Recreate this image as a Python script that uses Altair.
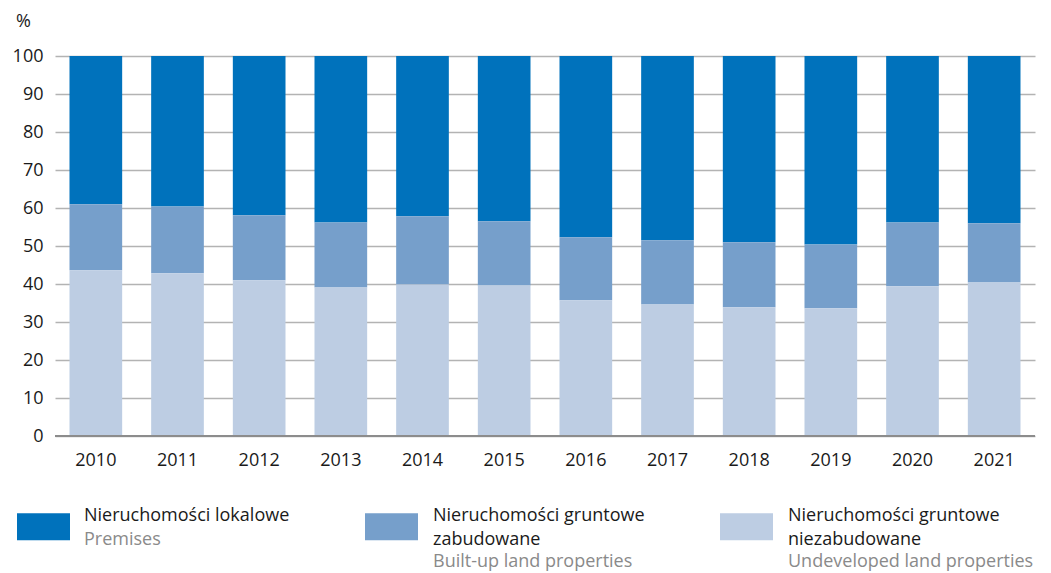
import altair as alt
import pandas as pd

years = ["2010", "2011", "2012", "2013", "2014", "2015", "2016", "2017", "2018", "2019", "2020", "2021"]
# cumulative boundaries
undeveloped = [43.6, 42.8, 41.0, 39.1, 39.9, 39.6, 35.7, 34.6, 33.9, 33.6, 39.4, 40.4]
builtup_top = [61.0, 60.4, 58.1, 56.2, 57.8, 56.5, 52.3, 51.5, 51.0, 50.4, 56.2, 56.0]
builtup = [round(b - u, 1) for b, u in zip(builtup_top, undeveloped)]
premises = [round(100 - b, 1) for b in builtup_top]

series_pl = ["Nieruchomości lokalowe", "Nieruchomości gruntowe zabudowane", "Nieruchomości gruntowe niezabudowane"]
series_en = ["Premises", "Built-up land properties", "Undeveloped land properties"]
colors = ["#0072BC", "#769FCB", "#BDCDE3"]
stack_order = [2, 1, 0]  # undeveloped at bottom

rows = []
for i, y in enumerate(years):
    for k, vals in enumerate([premises, builtup, undeveloped]):
        rows.append({"year": y, "series": series_pl[k], "value": vals[i], "ord": stack_order[k]})
df = pd.DataFrame(rows)

FONT = "Open Sans"
W, H = 980, 380
yaxis = alt.Axis(values=list(range(0, 101, 10)), labelFontSize=18, labelFont=FONT,
                 labelColor="#1a1a1a", domain=False, ticks=False, labelPadding=12,
                 labelOverlap=False, labelBound=False,
                 grid=True, gridColor="#b3b3b3", gridWidth=1.5)

bars = alt.Chart(df).mark_bar().encode(
    x=alt.X("year:N", sort=years, title=None,
            scale=alt.Scale(paddingInner=0.355, paddingOuter=0.1775),
            axis=alt.Axis(labelAngle=0, labelFontSize=18, labelFont=FONT, labelColor="#1a1a1a",
                          domain=False, ticks=False, labelPadding=15)),
    y=alt.Y("value:Q", stack="zero", title=None,
            scale=alt.Scale(domain=[0, 100], nice=False), axis=yaxis),
    color=alt.Color("series:N", scale=alt.Scale(domain=series_pl, range=colors), legend=None),
    order=alt.Order("ord:Q"),
)

zero_line = alt.Chart(pd.DataFrame({"v": [0]})).mark_rule(color="#8c8c8c", strokeWidth=2).encode(
    y=alt.Y("v:Q", title=None, scale=alt.Scale(domain=[0, 100], nice=False), axis=yaxis))

pct = alt.Chart(pd.DataFrame({"t": ["%"]})).mark_text(
    font=FONT, fontSize=18, color="#1a1a1a", align="left", baseline="middle"
).encode(text="t:N", x=alt.value(-39), y=alt.value(-34))

# custom legend
leg_sq_x = [-38, 310, 665]
leg_tx_x = [29, 378, 733]
pl_lines = [["Nieruchomości lokalowe"], ["Nieruchomości gruntowe", "zabudowane"], ["Nieruchomości gruntowe", "niezabudowane"]]
layers = [bars, zero_line, pct]
for k in range(3):
    sq = alt.Chart(pd.DataFrame({"s": [series_pl[k]]})).mark_rect(color=colors[k]).encode(
        x=alt.value(leg_sq_x[k]), x2=alt.value(leg_sq_x[k] + 53),
        y=alt.value(457.3), y2=alt.value(484.3))
    layers.append(sq)
    lines = pl_lines[k]
    for j, line in enumerate(lines):
        layers.append(alt.Chart(pd.DataFrame({"t": [line]})).mark_text(
            font=FONT, fontSize=18, color="#1a1a1a", align="left", baseline="middle"
        ).encode(text="t:N", x=alt.value(leg_tx_x[k]), y=alt.value(460 + 24 * j)))
    layers.append(alt.Chart(pd.DataFrame({"t": [series_en[k]]})).mark_text(
        font=FONT, fontSize=18, color="#8a8a8a", align="left", baseline="middle"
    ).encode(text="t:N", x=alt.value(leg_tx_x[k]), y=alt.value(484 if len(lines) == 1 else 506)))

chart = alt.layer(*layers).properties(
    width=W, height=H,
    padding={"left": 47, "top": 48, "right": 8, "bottom": 136},
    autosize=alt.AutoSizeParams(type="none"),
).configure_view(stroke=None).configure_axis(labelFont=FONT)

chart.save("out.html", embed_options={"renderer": "svg", "actions": False})
